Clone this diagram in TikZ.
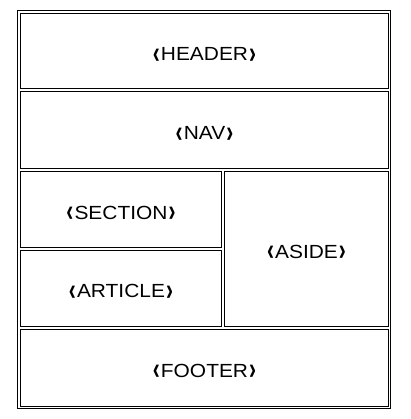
\documentclass[tikz,border=0pt]{standalone}
\usepackage{fontspec}
\setmainfont{Liberation Sans}
\usepackage{tikz}
\tikzset{>=latex}
\newcommand{\wide}[1]{\scalebox{1.1}[1]{#1}}
\newcommand{\ltag}{\raisebox{-0.13em}{\bfseries\scalebox{1}[1.65]{‹}}\kern1pt}
\newcommand{\rtag}{\kern1pt\raisebox{-0.13em}{\bfseries\scalebox{1}[1.65]{›}}}
\tikzset{
  cell/.style={draw, line width=1pt, inner sep=0pt,
               text height=19.4pt, text depth=0pt,
               font=\fontsize{19}{22}\selectfont}
}

\begin{document}
\begin{tikzpicture}[x=1pt,y=-1pt]
         \useasboundingbox (0,0) rectangle (410,419);
         % 外框
         \draw[line width=1pt] (17.5,10.5) rectangle (390.5,408.5);
         % 各个区块
         \node[cell, minimum width=368pt, minimum height=75pt]   (header)  at (204.5,51)     {\wide{\ltag HEADER\rtag}};
         \node[cell, minimum width=368pt, minimum height=77pt]   (nav)     at (204.5,130)    {\wide{\ltag NAV\rtag}};
         \node[cell, minimum width=201pt, minimum height=76pt]   (section) at (121,209.5)    {\wide{\ltag SECTION\rtag}};
         \node[cell, minimum width=201pt, minimum height=75.5pt] (article) at (121,288.25)   {\wide{\ltag ARTICLE\rtag}};
         \node[cell, minimum width=164pt, minimum height=154.5pt](aside)   at (306.5,248.75) {\wide{\ltag ASIDE\rtag}};
         \node[cell, minimum width=368pt, minimum height=77pt]   (footer)  at (204.5,367.5)  {\wide{\ltag FOOTER\rtag}};
        \end{tikzpicture}
\end{document}
